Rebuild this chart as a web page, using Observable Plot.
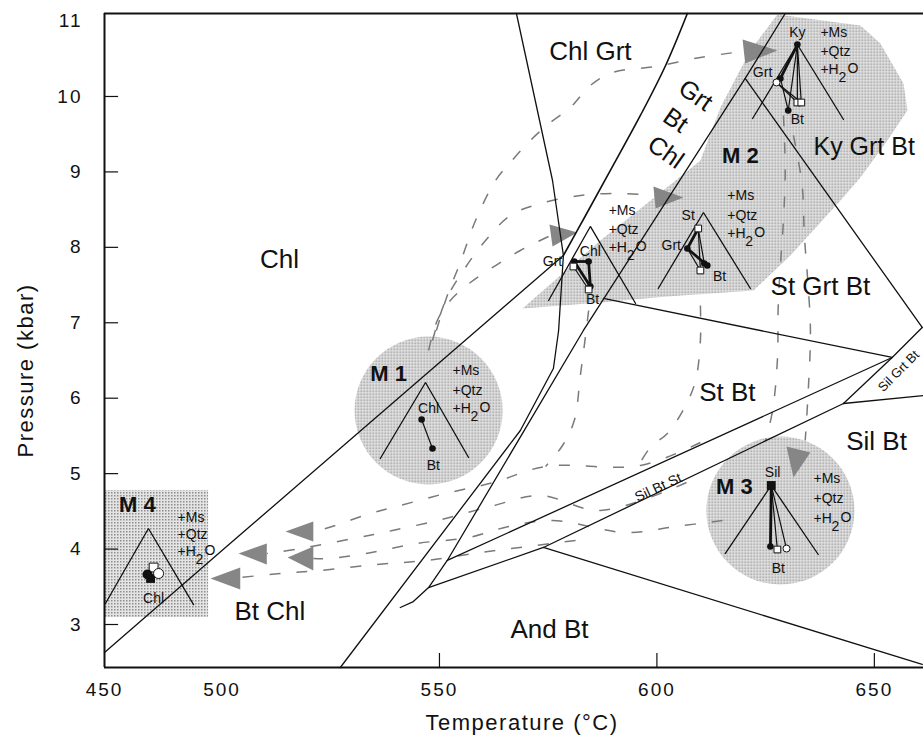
<!DOCTYPE html>
<html>
<head>
<meta charset="utf-8">
<script src="https://cdn.jsdelivr.net/npm/d3@7"></script>
<script src="https://cdn.jsdelivr.net/npm/@observablehq/plot@0.6"></script>
<style>
  html, body { margin: 0; padding: 0; background: #fff; }
  #chart svg { display: block; }
  g[aria-label="x-axis tick label"], g[aria-label="y-axis tick label"] { font-size: 19px; }
  g[aria-label="x-axis tick label"] text, g[aria-label="y-axis tick label"] text { letter-spacing: 2px; }
</style>
</head>
<body>
<div id="chart"></div>
<script>
// ---------- axes ----------
const xTicks = [450, 500, 550, 600, 650];
const yTicks = [3, 4, 5, 6, 7, 8, 9, 10, 11];
const xBreaks = [450, 500, 661.3];      // T axis is compressed below 500 °C
const yDomain = [2.43, 11.1];
const innerYTicks = [3, 4, 5, 6, 7, 8, 9, 10];
const innerXTicks = [550, 600, 650];

// ---------- reaction curves [T °C, P kbar] ----------
const chlBtChl   = [[450, 2.629], [500, 3.98], [578.5, 7.892]];
const chlGrtLine = [[567.7, 11.1], [576.0, 8.886], [578.5, 7.892], [577.4, 6.898], [576.2, 6.394], [568.6, 5.572], [527.2, 2.43]];
const stLine     = [[541.0, 3.225], [544.0, 3.304], [547.5, 3.490], [551.8, 3.849], [583.1, 6.898], [620.3, 10.239], [629.5, 11.1]];
const kyLine     = [[620.3, 10.239], [661.0, 6.938]];
const stGrtLine  = [[587.7, 7.322], [654.1, 6.540]];
const silGrtLine = [[642.9, 5.930], [654.1, 6.540], [661.0, 6.938]];
const silBtLine  = [[642.9, 5.930], [661.3, 6.036]];
const bandUpper  = [[551.8, 3.849], [654.1, 6.540]];
const bandLower  = [[573.9, 4.021], [642.9, 5.930]];
const andLine    = [[547.5, 3.490], [573.9, 4.021], [661.0, 2.470]];
const grtBtChlCurve = [[578.5, 7.892], [583.6, 8.422], [589.3, 9.019], [596.2, 9.748], [602.0, 10.411], [607.0, 11.1]];

// ---------- shaded assemblage fields ----------
const m2Band = [[569.1, 7.189], [587.0, 8.091], [602.0, 8.780], [610.0, 9.151], [614.6, 9.854], [621.5, 10.610],
  [627.7, 11.087], [646.8, 10.941], [651.4, 10.703], [656.7, 10.172], [657.6, 9.814], [653.0, 9.417],
  [646.8, 8.926], [642.2, 8.621], [630.7, 7.892], [622.2, 7.428], [602.4, 7.348], [587.0, 7.269]];
const discs = [{name: "M1", T: 547.5, P: 5.837}, {name: "M3", T: 628.4, P: 4.511}];
const m4Box = [{T1: 450.4, T2: 494.3, P1: 3.093, P2: 4.776}];

// ---------- P-T paths (dashed) ----------
const pathA1 = [[547.5, 6.632], [549.5, 7.030], [552.5, 7.295], [557.1, 7.534], [562.9, 7.759], [568.6, 7.958], [575.3, 8.15]];
const pathA2 = [[548.4, 6.765], [551.4, 7.295], [555.5, 7.693], [560.6, 8.091], [566.3, 8.422], [573.2, 8.581], [582.4, 8.687], [591.6, 8.714], [599.7, 8.687]];
const pathA3 = [[549.3, 6.898], [551.8, 7.362], [554.8, 7.799], [558.3, 8.356], [562.9, 8.886], [566.3, 9.125], [570.9, 9.417], [575.5, 9.655], [580.1, 9.854], [584.7, 10.146], [589.8, 10.318], [599.7, 10.398], [610.0, 10.517], [619.7, 10.597]];
const pathB1 = [[629.1, 9.748], [629.5, 9.019], [629.1, 8.356], [628.4, 7.759], [627.9, 7.229], [627.7, 6.500], [626.6, 5.837], [625.0, 5.439]];
const pathB2 = [[631.4, 9.483], [633.4, 8.820], [633.9, 8.157], [634.6, 7.627], [635.3, 6.898], [634.8, 6.102], [634.1, 5.439]];
const pathB3 = [[610.0, 7.229], [610.0, 6.765], [608.9, 6.235], [606.6, 5.903], [602.6, 5.545], [598.5, 5.347], [596.2, 5.148]];
const pathB4 = [[584.3, 7.163], [583.6, 6.831], [582.4, 6.301], [581.0, 5.704], [578.3, 5.373], [574.4, 5.095]];
const pathC1 = [[610.0, 5.413], [596.2, 5.108], [574.4, 5.095], [562.4, 4.882], [551.4, 4.737], [541.0, 4.578], [534.1, 4.472], [523.8, 4.273], [521.0, 4.246]];
const pathC2 = [[606.8, 4.882], [587.0, 4.511], [573.2, 4.710], [561.7, 4.564], [550.5, 4.392], [539.2, 4.246], [530.2, 4.140], [518.0, 4.007], [510.3, 3.941]];
const pathC3 = [[615.1, 4.379], [604.3, 4.299], [592.8, 4.220], [576.0, 4.379], [565.9, 4.299], [556.7, 4.153], [544.7, 4.074], [534.4, 3.955], [524.9, 3.875], [521.0, 3.875]];
const pathC4 = [[581.3, 4.114], [570.2, 4.034], [559.4, 3.955], [546.8, 3.848], [535.3, 3.795], [522.6, 3.716], [513.4, 3.676], [504.2, 3.623]];

// arrowheads (tip, base, base)
const arrowA1 = [[581.7, 8.197], [575.3, 8.303], [576.0, 8.011]];
const arrowA2 = [[606.1, 8.661], [599.2, 8.807], [599.7, 8.515]];
const arrowA3 = [[627.7, 10.610], [619.7, 10.756], [620.3, 10.438]];
const arrowB  = [[631.4, 4.949], [629.8, 5.360], [635.3, 5.280]];
const arrowE1 = [[514.6, 4.233], [521.0, 4.365], [521.0, 4.100]];
const arrowE2 = [[503.8, 3.941], [510.3, 4.074], [510.3, 3.795]];
const arrowE3 = [[515.1, 3.888], [521.0, 4.034], [521.0, 3.716]];
const arrowE4 = [[495.1, 3.610], [504.2, 3.755], [504.2, 3.464]];

// ---------- ternary projections (open triangles) ----------
const triM1     = [[536.4, 5.201], [546.8, 6.208], [556.7, 5.214]];
const triM4     = [[450.4, 3.278], [468.7, 4.273], [487.9, 3.264]];
const triM3     = [[615.7, 3.941], [626.3, 4.843], [637.1, 3.928]];
const triGrtChl = [[575.1, 7.295], [584.7, 8.277], [595.1, 7.256]];
const triSt     = [[600.3, 7.454], [610.7, 8.462], [621.5, 7.454]];
const triKy     = [[622.0, 9.708], [632.3, 10.689], [642.9, 9.695]];

// tie lines [T1, P1, T2, P2]
const thickTies = [
  [581.0, 7.812, 584.3, 7.812], [584.3, 7.812, 584.7, 7.481], [584.7, 7.481, 581.0, 7.812],
  [607.0, 7.985, 609.5, 8.250], [607.0, 7.985, 611.6, 7.759],
  [632.3, 10.689, 628.4, 10.239],
  [626.3, 4.843, 626.1, 4.034]
];
const thinTies = [
  [545.9, 5.718, 548.4, 5.333],
  [580.8, 7.746, 584.3, 7.441],
  [609.5, 8.250, 610.9, 7.786], [609.5, 8.250, 610.0, 7.693], [607.0, 7.985, 610.0, 7.693],
  [632.3, 10.689, 630.2, 9.814], [632.3, 10.689, 632.3, 9.920], [632.3, 10.689, 633.2, 9.920],
  [628.4, 10.239, 630.2, 9.814], [627.5, 10.186, 632.3, 9.920], [627.5, 10.186, 633.2, 9.920],
  [626.3, 4.843, 627.7, 3.994], [626.3, 4.843, 629.8, 4.007]
];

// mineral compositions
const blackDots = [[545.9, 5.718], [548.4, 5.333], [581.0, 7.812], [584.3, 7.812], [584.7, 7.481],
  [607.0, 7.985], [610.9, 7.786], [611.6, 7.759], [632.3, 10.689], [628.4, 10.239], [630.2, 9.814], [626.1, 4.034]];
const whiteSquares = [[580.8, 7.746], [584.3, 7.441], [609.5, 8.250], [610.0, 7.693], [632.3, 9.920], [633.2, 9.920], [627.7, 3.994]];
const whiteCircles = [[627.5, 10.186], [629.8, 4.007]];
const silSquare = [[626.3, 4.843]];
const m4Black = [[468.3, 3.663]];
const m4BlackSquare = [[469.6, 3.610]];
const m4WhiteSquare = [[470.9, 3.755]];
const m4WhiteCircle = [[473.0, 3.676]];

// ---------- labels ----------
const regionLabels = [
  {t: "Chl", T: 513.2, P: 7.839}, {t: "Chl Grt", T: 584.7, P: 10.597}, {t: "St Grt Bt", T: 637.6, P: 7.481},
  {t: "St Bt", T: 616.2, P: 6.076}, {t: "Sil Bt", T: 650.5, P: 5.426}, {t: "And Bt", T: 575.3, P: 2.933},
  {t: "Bt Chl", T: 511.0, P: 3.172}
];
const kyLabel = [{t: "Ky Grt Bt", T: 636.0, P: 9.324}];
const slopedLabels = [{t: "Grt", T: 608.9, P: 10.013}, {t: "Bt", T: 604.3, P: 9.682}, {t: "Chl", T: 602.0, P: 9.258}];
const stageLabels = [{t: "M 1", T: 538.3, P: 6.328}, {t: "M 2", T: 619.2, P: 9.218}, {t: "M 3", T: 617.8, P: 4.830}, {t: "M 4", T: 464.0, P: 4.591}];
const silBtStLabel = [{t: "Sil Bt St", T: 600.3, P: 4.816}];
const silGrtBtLabel = [{t: "Sil Grt Bt", T: 655.6, P: 6.36}];
const vertexLabels = [
  {t: "Chl", T: 547.5, P: 5.864}, {t: "Bt", T: 548.6, P: 5.108},
  {t: "Chl", T: 470.9, P: 3.344},
  {t: "Sil", T: 626.6, P: 5.015}, {t: "Bt", T: 627.9, P: 3.742},
  {t: "Grt", T: 576.0, P: 7.812}, {t: "Chl", T: 584.7, P: 7.945}, {t: "Bt", T: 585.2, P: 7.309},
  {t: "St", T: 607.2, P: 8.422}, {t: "Grt", T: 603.3, P: 8.025}, {t: "Bt", T: 614.4, P: 7.614},
  {t: "Ky", T: 632.3, P: 10.849}, {t: "Grt", T: 624.3, P: 10.318}, {t: "Bt", T: 632.3, P: 9.695}
];
const assemblages = [
  {T: 553.0, ms: 6.367, qtz: 6.102, h2o: 5.864},
  {T: 481.1, ms: 4.418, qtz: 4.193, h2o: 3.968},
  {T: 636.0, ms: 4.935, qtz: 4.670, h2o: 4.405},
  {T: 588.9, ms: 8.489, qtz: 8.237, h2o: 7.998},
  {T: 616.2, ms: 8.687, qtz: 8.422, h2o: 8.184},
  {T: 637.6, ms: 10.849, qtz: 10.597, h2o: 10.358}
];

// ---------- build tables ----------
const rowsOf = (named) => Object.entries(named).flatMap(([id, pts]) => pts.map(([T, P]) => ({id, T, P})));
const pts = (arr) => arr.map(([T, P]) => ({T, P}));
const reactionRows = rowsOf({chlBtChl, chlGrtLine, stLine, kyLine, stGrtLine, silGrtLine, silBtLine, bandUpper, bandLower, andLine});
const pathRows = rowsOf({pathA1, pathA2, pathA3, pathB1, pathB2, pathB3, pathB4, pathC1, pathC2, pathC3, pathC4});
const arrowRows = rowsOf({arrowA1, arrowA2, arrowA3, arrowB, arrowE1, arrowE2, arrowE3, arrowE4});
const triRows = rowsOf({triM1, triM4, triM3, triGrtChl, triSt, triKy});
const tieRows = (arr) => arr.map(([T1, P1, T2, P2]) => ({T1, P1, T2, P2}));

const font = "'Liberation Sans', Arial, Helvetica, sans-serif";
const ink = "#111";

const svg = Plot.plot({
  width: 923,
  height: 746,
  marginLeft: 104,
  marginRight: 0,
  marginTop: 13,
  marginBottom: 79,
  style: {fontFamily: font, fontSize: "14px", background: "#fff", color: ink},
  x: {type: "linear", domain: xBreaks, range: [104, 221.5, 923], label: null},
  y: {domain: yDomain, label: null},
  marks: [
    // shaded fields
    Plot.rect(m4Box, {x1: "T1", x2: "T2", y1: "P1", y2: "P2", fill: "url(#stip)"}),
    Plot.dot(discs, {x: "T", y: "P", r: 74, fill: "url(#stip)", stroke: "none"}),
    Plot.line(pts(m2Band), {x: "T", y: "P", fill: "url(#stip)", stroke: "none"}),
    // P-T paths
    Plot.line(pathRows, {x: "T", y: "P", z: "id", curve: "catmull-rom", stroke: "#7a7a7a", strokeWidth: 1.5, strokeDasharray: "11,16", strokeLinecap: "butt"}),
    Plot.line(arrowRows, {x: "T", y: "P", z: "id", fill: "url(#stipDark)", stroke: "none"}),
    // reaction curves
    Plot.line(reactionRows, {x: "T", y: "P", z: "id", stroke: ink, strokeWidth: 1.3}),
    Plot.line(pts(grtBtChlCurve), {x: "T", y: "P", curve: "catmull-rom", stroke: ink, strokeWidth: 1.6}),
    // ternary projections
    Plot.line(triRows, {x: "T", y: "P", z: "id", stroke: ink, strokeWidth: 1.3, strokeLinejoin: "miter"}),
    Plot.link(tieRows(thinTies), {x1: "T1", y1: "P1", x2: "T2", y2: "P2", stroke: ink, strokeWidth: 1.2}),
    Plot.link(tieRows(thickTies), {x1: "T1", y1: "P1", x2: "T2", y2: "P2", stroke: ink, strokeWidth: 2.8}),
    Plot.dot(pts(blackDots), {x: "T", y: "P", r: 3.3, fill: ink, stroke: "none"}),
    Plot.dot(pts(whiteSquares), {x: "T", y: "P", r: 3.8, symbol: "square", fill: "#fff", stroke: ink, strokeWidth: 1}),
    Plot.dot(pts(whiteCircles), {x: "T", y: "P", r: 3.5, fill: "#fff", stroke: ink, strokeWidth: 1}),
    Plot.dot(pts(silSquare), {x: "T", y: "P", r: 5, symbol: "square", fill: ink}),
    Plot.dot(pts(m4WhiteSquare), {x: "T", y: "P", r: 5, symbol: "square", fill: "#fff", stroke: ink, strokeWidth: 1}),
    Plot.dot(pts(m4BlackSquare), {x: "T", y: "P", r: 5, symbol: "square", fill: ink}),
    Plot.dot(pts(m4Black), {x: "T", y: "P", r: 5, fill: ink}),
    Plot.dot(pts(m4WhiteCircle), {x: "T", y: "P", r: 5, fill: "#fff", stroke: ink, strokeWidth: 1}),
    // labels
    Plot.text(regionLabels, {x: "T", y: "P", text: "t", fontSize: 26, fill: ink}),
    Plot.text(kyLabel, {x: "T", y: "P", text: "t", fontSize: 25, textAnchor: "start", fill: ink}),
    Plot.text(slopedLabels, {x: "T", y: "P", text: "t", fontSize: 25, rotate: 35, fill: ink}),
    Plot.text(stageLabels, {x: "T", y: "P", text: "t", fontSize: 22, fontWeight: "bold", fill: ink}),
    Plot.text(silBtStLabel, {x: "T", y: "P", text: "t", fontSize: 14, rotate: -25, fill: ink}),
    Plot.text(silGrtBtLabel, {x: "T", y: "P", text: "t", fontSize: 13, rotate: -45, fill: ink}),
    Plot.text(vertexLabels, {x: "T", y: "P", text: "t", fontSize: 14, fill: ink}),
    Plot.text(assemblages, {x: "T", y: "ms", text: () => "+Ms", textAnchor: "start", fontSize: 14, fill: ink}),
    Plot.text(assemblages, {x: "T", y: "qtz", text: () => "+Qtz", textAnchor: "start", fontSize: 14, fill: ink}),
    Plot.text(assemblages, {x: "T", y: "h2o", text: () => "+H", textAnchor: "start", fontSize: 14, fill: ink}),
    Plot.text(assemblages, {x: "T", y: "h2o", text: () => "2", textAnchor: "start", fontSize: 14, dx: 18, dy: 8, fill: ink}),
    Plot.text(assemblages, {x: "T", y: "h2o", text: () => "O", textAnchor: "start", fontSize: 14, dx: 27, dy: -1, fill: ink}),
    // frame and ticks
    Plot.ruleX([xBreaks[0]], {stroke: ink, strokeWidth: 2}),
    Plot.ruleY(yDomain, {stroke: ink, strokeWidth: 2}),
    Plot.ruleY(innerYTicks, {x1: 450, x2: 456, stroke: ink, strokeWidth: 1.2}),
    Plot.ruleX(innerXTicks, {y1: yDomain[0], y2: 2.616, stroke: ink, strokeWidth: 1.2}),
    Plot.axisX({ticks: xTicks, tickSize: 0, tickPadding: 15, fontSize: 19, tickFormat: d => String(d)}),
    Plot.axisY({ticks: yTicks, tickSize: 0, tickPadding: 22, fontSize: 19, tickFormat: d => String(d)}),
    Plot.text(["Temperature (°C)"], {frameAnchor: "bottom", textAnchor: "middle", lineAnchor: "middle", dx: 8, dy: 55, fontSize: 22, fill: ink}),
    Plot.text(["Pressure (kbar)"], {frameAnchor: "left", textAnchor: "middle", lineAnchor: "middle", dx: -79, dy: 30, rotate: -90, fontSize: 22, fill: ink})
  ]
});

// stipple patterns
const defs = d3.select(svg).insert("defs", ":first-child");
const p1 = defs.append("pattern").attr("id", "stip").attr("patternUnits", "userSpaceOnUse").attr("width", 3).attr("height", 3);
p1.append("rect").attr("width", 3).attr("height", 3).attr("fill", "#e4e4e4");
p1.append("rect").attr("width", 1.5).attr("height", 1.5).attr("fill", "#8e8e8e");
const p2 = defs.append("pattern").attr("id", "stipDark").attr("patternUnits", "userSpaceOnUse").attr("width", 2).attr("height", 2);
p2.append("rect").attr("width", 2).attr("height", 2).attr("fill", "#9a9a9a");
p2.append("rect").attr("width", 1).attr("height", 1).attr("fill", "#4a4a4a");
// letter-spaced axis titles
d3.select(svg).selectAll("text").filter(function () { return /Temperature|Pressure/.test(this.textContent); }).style("letter-spacing", "1.5px");

document.getElementById("chart").appendChild(svg);
</script>
</body>
</html>
